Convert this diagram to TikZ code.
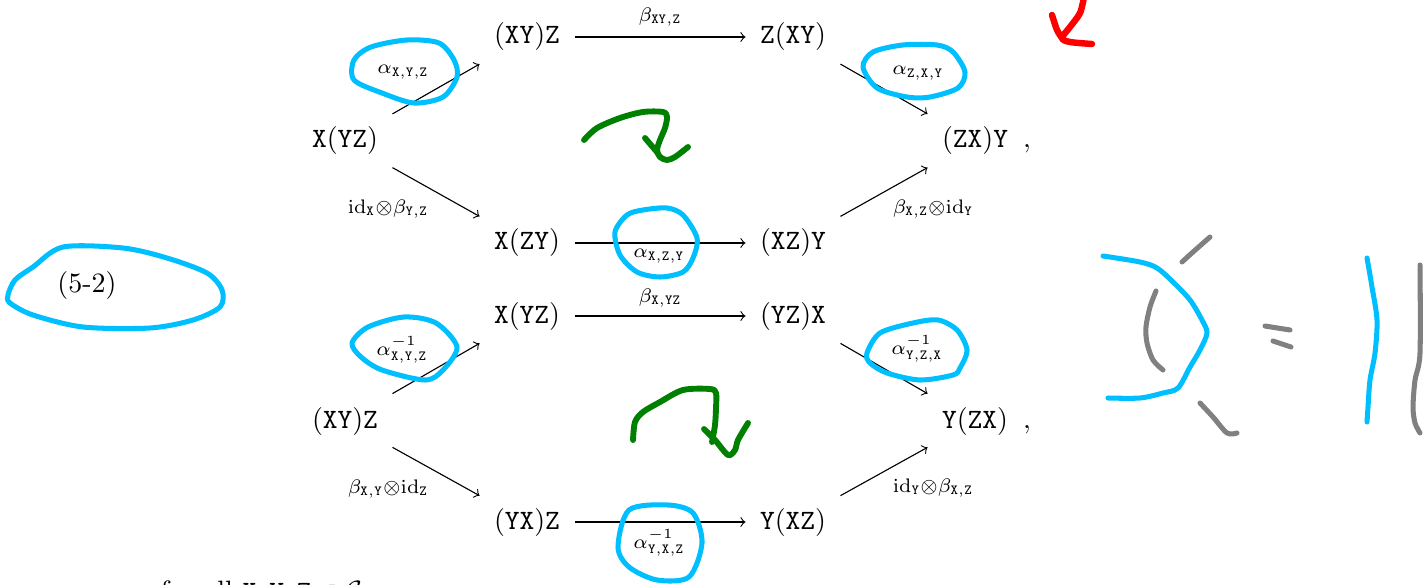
\documentclass[tikz,border=0pt]{standalone}
\usepackage{amsmath,amssymb}
\definecolor{skyc}{HTML}{00BFFF}
\definecolor{greenc}{HTML}{008000}
\definecolor{redc}{HTML}{FF0000}
\definecolor{grayc}{HTML}{808080}
\begin{document}
\begin{tikzpicture}[x=0.35714pt,y=-0.35714pt,
  obj/.style={inner xsep=5pt,inner ysep=5pt},
  lab/.style={inner sep=0pt},
  mor/.style={->,line width=0.4pt},
  cyanpen/.style={draw=skyc,line width=1.8pt,line cap=round,line join=round},
  greenpen/.style={draw=greenc,line width=2.1pt,line cap=round,line join=round},
  redpen/.style={draw=redc,line width=2.3pt,line cap=round,line join=round},
  graypen/.style={draw=grayc,line width=1.8pt,line cap=round,line join=round}]
\useasboundingbox (0,0) rectangle (1428,585);

% top hexagon
\node[obj] (a1) at (345,141) {$\mathtt{X}(\mathtt{YZ})$};
\node[obj] (b1) at (527,37) {$(\mathtt{XY})\mathtt{Z}$};
\node[obj] (c1) at (793,37) {$\mathtt{Z}(\mathtt{XY})$};
\node[obj] (d1) at (975,141) {$(\mathtt{ZX})\mathtt{Y}$};
\node[obj] (e1) at (527,243) {$\mathtt{X}(\mathtt{ZY})$};
\node[obj] (f1) at (793,243) {$(\mathtt{XZ})\mathtt{Y}$};
\node[lab,anchor=base] (k1) at (1027,148) {$,$};

\draw[mor] (a1) -- (b1);
\draw[mor] (b1) -- (c1);
\draw[mor] (c1) -- (d1);
\draw[mor] (a1) -- (e1);
\draw[mor] (e1) -- (f1);
\draw[mor] (f1) -- (d1);

\node[lab] (l1) at (660,17) {$\scriptstyle\beta_{\mathtt{XY,Z}}$};
\node[lab] (l2) at (403,72) {$\scriptstyle\alpha_{\mathtt{X,Y,Z}}$};
\node[lab] (l3) at (388,209) {$\scriptstyle\mathrm{id}_{\mathtt{X}}\otimes\beta_{\mathtt{Y,Z}}$};
\node[lab] (l4) at (659,256) {$\scriptstyle\alpha_{\mathtt{X,Z,Y}}$};
\node[lab] (l5) at (918,73) {$\scriptstyle\alpha_{\mathtt{Z,X,Y}}$};
\node[lab] (l6) at (933,209) {$\scriptstyle\beta_{\mathtt{X,Z}}\otimes\mathrm{id}_{\mathtt{Y}}$};

% bottom hexagon
\node[obj] (a2) at (345,421) {$(\mathtt{XY})\mathtt{Z}$};
\node[obj] (b2) at (527,316) {$\mathtt{X}(\mathtt{YZ})$};
\node[obj] (c2) at (793,316) {$(\mathtt{YZ})\mathtt{X}$};
\node[obj] (d2) at (975,421) {$\mathtt{Y}(\mathtt{ZX})$};
\node[obj] (e2) at (527,522) {$(\mathtt{YX})\mathtt{Z}$};
\node[obj] (f2) at (793,522) {$\mathtt{Y}(\mathtt{XZ})$};
\node[lab,anchor=base] (k2) at (1027,428) {$,$};

\draw[mor] (a2) -- (b2);
\draw[mor] (b2) -- (c2);
\draw[mor] (c2) -- (d2);
\draw[mor] (a2) -- (e2);
\draw[mor] (e2) -- (f2);
\draw[mor] (f2) -- (d2);

\node[lab] (m1) at (660,298) {$\scriptstyle\beta_{\mathtt{X,YZ}}$};
\node[lab] (m2) at (402,350) {$\scriptstyle\alpha^{-1}_{\mathtt{X,Y,Z}}$};
\node[lab] (m3) at (388,489) {$\scriptstyle\beta_{\mathtt{X,Y}}\otimes\mathrm{id}_{\mathtt{Z}}$};
\node[lab] (m4) at (659,543) {$\scriptstyle\alpha^{-1}_{\mathtt{Y,X,Z}}$};
\node[lab] (m5) at (917,349) {$\scriptstyle\alpha^{-1}_{\mathtt{Y,Z,X}}$};
\node[lab] (m6) at (933,488) {$\scriptstyle\mathrm{id}_{\mathtt{Y}}\otimes\beta_{\mathtt{X,Z}}$};

% equation number and trailing text
\node[lab] (eq) at (87,286) {(5-2)};
\node[lab,anchor=base west] (ft) at (160,600) {for all $\mathtt{X},\mathtt{Y},\mathtt{Z}\in\mathcal{C}$};

% hand-drawn annotations
\draw[cyanpen] plot[smooth cycle] coordinates {(354,60) (371,47) (407,40) (439,43) (454,60) (457,77) (443,97) (414,103) (382,93) (354,80)};
\draw[cyanpen] plot[smooth cycle] coordinates {(615,232) (627,215) (643,210) (667,208) (683,215) (697,238) (693,258) (683,272) (660,277) (637,272) (620,255)};
\draw[cyanpen] plot[smooth cycle] coordinates {(863,67) (873,52) (903,45) (937,45) (953,52) (965,72) (958,88) (930,97) (907,97) (877,88)};
\draw[cyanpen] plot[smooth cycle] coordinates {(8,295) (15,280) (33,267) (63,247) (123,248) (167,258) (207,273) (222,290) (220,307) (193,320) (150,328) (83,327) (33,315) (10,303)};
\draw[cyanpen] plot[smooth cycle] coordinates {(352,343) (368,327) (404,317) (436,323) (457,347) (443,370) (425,380) (382,370) (361,357)};
\draw[cyanpen] plot[smooth cycle] coordinates {(618,547) (629,510) (668,505) (693,513) (702,543) (689,577) (657,580) (629,567)};
\draw[cyanpen] plot[smooth cycle] coordinates {(867,353) (880,333) (913,323) (938,320) (957,330) (967,350) (960,368) (953,375) (920,380) (887,373) (870,363)};

\draw[greenpen] plot[smooth] coordinates {(584,140) (597,128) (620,118) (643,112) (663,112) (667,117) (665,128) (660,140) (657,150) (660,157) (667,160) (675,157) (688,147)};
\draw[greenpen] (645,138) -- (657,152);
\draw[greenpen] plot[smooth] coordinates {(633,440) (635,422) (643,412) (660,402) (683,390) (710,389) (716,393) (716,408) (715,425) (712,442)};
\draw[greenpen] plot[smooth] coordinates {(704,429) (715,440) (728,455) (735,450) (738,440) (748,423)};

\draw[redpen] plot[smooth] coordinates {(1084,-3) (1080,13) (1070,27) (1062,38) (1070,42) (1092,44)};
\draw[redpen] plot[smooth] coordinates {(1052,15) (1057,30) (1062,38)};

\draw[graypen] plot[smooth] coordinates {(1182,262) (1193,252) (1210,237)};
\draw[graypen] plot[smooth] coordinates {(1156,291) (1150,307) (1146,327) (1147,343) (1153,360) (1163,370)};
\draw[graypen] plot[smooth] coordinates {(1200,403) (1213,417) (1227,433) (1237,433)};
\draw[graypen] (1265,326) -- (1290,330);
\draw[graypen] (1273,341) -- (1291,347);
\draw[graypen] plot[smooth] coordinates {(1420,265) (1420,353) (1415,380) (1413,407) (1415,423) (1420,433)};
\draw[cyanpen] plot[smooth] coordinates {(1103,256) (1140,262) (1157,268) (1173,282) (1190,300) (1202,320) (1207,333) (1200,350) (1190,367) (1178,388) (1163,393) (1140,398) (1108,398)};
\draw[cyanpen] plot[smooth] coordinates {(1367,258) (1372,287) (1377,320) (1375,353) (1370,380) (1368,407) (1367,422)};
\end{tikzpicture}
\end{document}
